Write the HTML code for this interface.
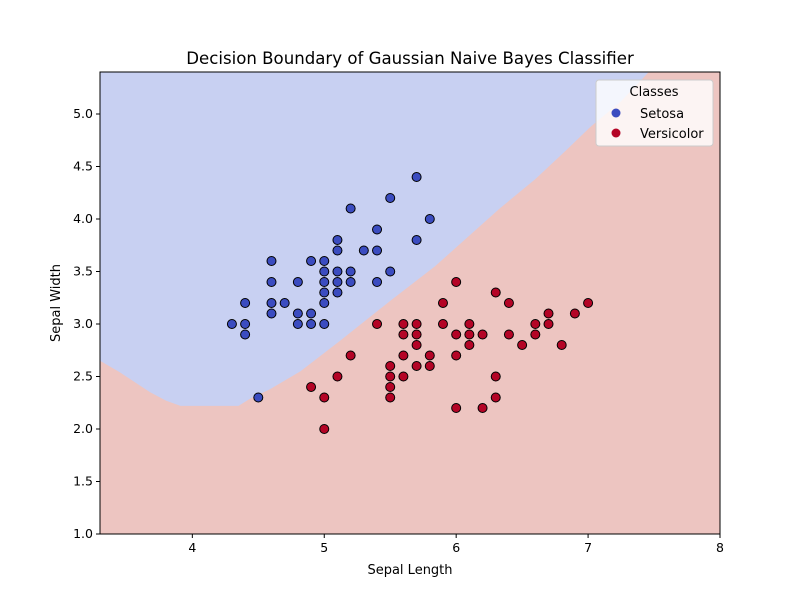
<!DOCTYPE html>
<html><head><meta charset="utf-8"><style>
body{margin:0;background:#fff;font-family:"Liberation Sans","DejaVu Sans",sans-serif}
</style></head><body>
<svg width="800" height="600" xmlns="http://www.w3.org/2000/svg" font-family="DejaVu Sans, Liberation Sans, sans-serif">
<g id="plot"></g>
</svg>
<script>
const setosaX=[4.3,4.4,4.4,4.4,4.5,4.6,4.6,4.6,4.6,4.7,4.8,4.8,4.8,4.9,4.9,4.9,5.0,5.0,5.0,5.0,5.0,5.0,5.1,5.1,5.1,5.1,5.1,5.2,5.2,5.2,5.3,5.4,5.4,5.4,5.5,5.5,5.7,5.7,5.8];
const setosaY=[3.0,3.2,3.0,2.9,2.3,3.6,3.4,3.2,3.1,3.2,3.4,3.1,3.0,3.6,3.1,3.0,3.6,3.5,3.4,3.3,3.2,3.0,3.8,3.7,3.5,3.4,3.3,4.1,3.5,3.4,3.7,3.9,3.7,3.4,4.2,3.5,4.4,3.8,4.0];
const versiX=[4.9,5.0,5.0,5.1,5.2,5.4,5.5,5.5,5.5,5.5,5.6,5.6,5.6,5.6,5.7,5.7,5.7,5.7,5.8,5.8,5.9,5.9,6.0,6.0,6.0,6.0,6.1,6.1,6.1,6.2,6.2,6.3,6.3,6.3,6.4,6.4,6.5,6.6,6.6,6.7,6.7,6.8,6.9,7.0];
const versiY=[2.4,2.3,2.0,2.5,2.7,3.0,2.6,2.5,2.4,2.3,3.0,2.9,2.7,2.5,3.0,2.9,2.8,2.6,2.7,2.6,3.2,3.0,3.4,2.9,2.7,2.2,3.0,2.9,2.8,2.9,2.2,3.3,2.5,2.3,3.2,2.9,2.8,3.0,2.9,3.1,3.0,2.8,3.1,3.2];
const boundaryX=[3.3,3.45,3.68,3.8,3.91,4.35,4.44,4.59,4.82,5.12,5.5,5.84,6.33,6.6,6.83,7.02,7.25,7.46];
const boundaryY=[2.65,2.54,2.35,2.27,2.22,2.22,2.29,2.38,2.55,2.84,3.22,3.55,4.1,4.38,4.65,4.88,5.12,5.4];
const xTicks=[4,5,6,7,8];
const yTicks=[1.0,1.5,2.0,2.5,3.0,3.5,4.0,4.5,5.0];
const X0=3.3,X1=8.0,Y0=1.0,Y1=5.4,L=100,R=720,T=72,B=534;
const sx=v=>L+(v-X0)/(X1-X0)*(R-L);
const sy=v=>B-(v-Y0)/(Y1-Y0)*(B-T);
const g=document.getElementById('plot');
const NS='http://www.w3.org/2000/svg';
function mk(tag,attrs,parent){const e=document.createElementNS(NS,tag);for(const k in attrs)e.setAttribute(k,attrs[k]);(parent||g).appendChild(e);return e;}
const red=mk('rect',{x:L,y:T,width:R-L,height:B-T,fill:'#edc5c1'});


let pts=`${L},${T} `+boundaryX.map((v,i)=>`${sx(v)},${sy(boundaryY[i])}`).join(' ');
const blue=mk('polygon',{points:pts,fill:'#c8d0f2'});


mk('rect',{x:L,y:T,width:R-L,height:B-T,fill:'none',stroke:'#000','stroke-width':1});
xTicks.forEach(t=>{mk('line',{x1:sx(t),x2:sx(t),y1:B,y2:B+4,stroke:'#000'});
const tx=mk('text',{x:sx(t),y:B+18,'text-anchor':'middle','font-size':12.5});tx.textContent=t;

});
yTicks.forEach(t=>{mk('line',{x1:L-4,x2:L,y1:sy(t),y2:sy(t),stroke:'#000'});
const tx=mk('text',{x:L-7,y:sy(t)+4,'text-anchor':'end','font-size':12.5});tx.textContent=t.toFixed(1);

});
function scatter(xs,ys,c,name){xs.forEach((v,i)=>{const p=mk('circle',{cx:sx(v),cy:sy(ys[i]),r:4.5,fill:c,stroke:'#000','stroke-width':1});

});}
scatter(setosaX,setosaY,'#3b4cc0','setosa-point');
scatter(versiX,versiY,'#b40426','versicolor-point');
const title=mk('text',{x:410,y:64,'text-anchor':'middle','font-size':16.6});title.textContent='Decision Boundary of Gaussian Naive Bayes Classifier';


const xl=mk('text',{x:410,y:574,'text-anchor':'middle','font-size':13});xl.textContent='Sepal Length';


const yl=mk('text',{x:0,y:0,'text-anchor':'middle','font-size':13,transform:'translate(60,303) rotate(-90)'});yl.textContent='Sepal Width';


const lg=mk('g',{});


mk('rect',{x:596,y:80,width:117,height:66,rx:3,fill:'#fff','fill-opacity':0.8,stroke:'#ccc'},lg);
const lt=mk('text',{x:654,y:96,'text-anchor':'middle','font-size':13},lg);lt.textContent='Classes';
[['Setosa','#3b4cc0',113],['Versicolor','#b40426',133]].forEach(([n,c,y])=>{
mk('circle',{cx:616,cy:y,r:4.5,fill:c},lg);
const t=mk('text',{x:640,y:y+5,'font-size':13},lg);t.textContent=n;

});
</script>
</body></html>
